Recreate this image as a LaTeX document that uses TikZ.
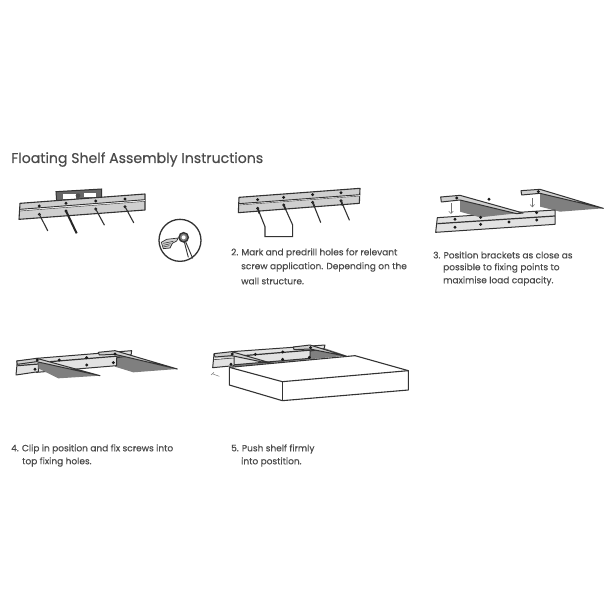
\documentclass[tikz,border=0pt]{standalone}
\usepackage{fontspec}
\setmainfont{Poppins}[FakeBold=0.35]
\usetikzlibrary{arrows.meta}
\definecolor{ink}{HTML}{333333}
\definecolor{txt}{HTML}{4A4A4A}
\definecolor{plate}{HTML}{CFCFCF}
\definecolor{lightplate}{HTML}{E2E2E2}
\definecolor{shade}{HTML}{7F7F7F}
\tikzset{
  thirds/.style={x=0.33333pt,y=-0.33333pt},
  platefill/.style={fill=plate,draw=ink,line width=1.1pt,line join=round},
  lightfill/.style={fill=lightplate,draw=ink,line width=1pt,line join=round},
  plateedge/.style={draw=ink,line width=0.9pt},
  screw/.style={draw=ink,line width=1.1pt,line cap=round},
  thickscrew/.style={draw=black!85,line width=2pt},
  brk/.style={fill=plate,draw=ink,line width=1pt,line join=round},
  grayside/.style={fill=shade,draw=none},
  holedot/.style={fill=black!90,draw=none},
  titletext/.style={anchor=west,inner sep=0pt,text=txt,font=\fontsize{14.1}{16}\selectfont},
  bodytext/.style={anchor=west,inner sep=0pt,text=txt,font=\fontsize{9}{12}\selectfont},
  downarrow/.style={draw=ink!70,line width=0.5pt,-{Straight Barb[length=2.5pt,width=4.5pt]}}
}
\newcommand{\holes}[1]{\foreach \p in {#1}{\fill[holedot] \p circle[radius=4.8];}}
\begin{document}
\begin{tikzpicture}[x=1pt,y=-1pt]
\useasboundingbox (0,0) rectangle (615,615);
\fill[white] (0,0) rectangle (615,615);
\node[titletext] (title) at (11,159.5) {Floating Shelf Assembly Instructions};

% panel 1
\begin{scope}[shift={(0,140)},thirds]
\filldraw[fill=black!60,draw=ink,line width=1pt] (168,155)--(305,147)--(305,172)--(170,185)--cycle;
\fill[white] (190,163) rectangle (228,178);
\fill[white] (252,158) rectangle (288,172);
\fill[black!70] (234,167) circle[radius=7];
\filldraw[platefill] (60,190)--(435,162)--(435,210)--(57,238)--cycle;
\fill[white] (60,209)--(435,180)--(435,183)--(60,212)--cycle;
\draw[plateedge] (60,208)--(435,179);
\draw[plateedge,line width=0.4pt] (60,213)--(435,184);
\holes{(118,198),(198,190),(287,183),(375,177),(118,223),(198,213),(287,207),(375,200)}
\draw[screw] (118,223)--(143,272);
\draw[thickscrew] (198,213)--(230,280);
\draw[screw] (287,207)--(313,255);
\draw[screw] (375,200)--(401,248);
% inset
\draw[ink,line width=1.3pt] (540,301) circle[radius=63];
\draw[ink,line width=0.9pt] (556,303)--(578,355) (553,306)--(565,352);
\filldraw[fill=shade,draw=ink,line width=1.4pt] (551,292) circle[radius=14];
\fill[white] (551,292) circle[radius=6];
\filldraw[fill=plate,draw=ink,line width=0.7pt] (484,307)--(500,298)--(535,294)--(530,303)--(517,310)--(510,324)--(490,326)--cycle;
\draw[ink,line width=0.5pt] (490,310)--(520,304) (490,316)--(512,311) (490,321)--(508,317);
\end{scope}

% panel 2
\begin{scope}[shift={(220,170)},thirds]
\filldraw[platefill] (57,82)--(420,55)--(418,100)--(55,128)--cycle;
\fill[white] (57,102)--(420,75)--(420,78)--(57,105)--cycle;
\draw[plateedge] (57,101)--(420,74);
\draw[plateedge,line width=0.4pt] (57,105)--(420,78);
\holes{(113,89),(191,82),(278,74),(363,68),(113,115),(191,105),(278,97),(363,92)}
\draw[screw] (113,115)--(135,170)--(135,200)--(218,200)--(218,165)--(191,105);
\draw[thickscrew,line width=1.7pt] (113,113)--(118,130) (191,104)--(197,120) (278,96)--(284,112) (363,91)--(368,107);
\draw[screw] (278,97)--(302,157);
\draw[screw] (363,92)--(388,150);
\end{scope}

% panel 3
\begin{scope}[shift={(420,170)},thirds]
\fill[grayside] (360,70)--(360,110)--(420,125)--(550,115)--cycle;
\filldraw[lightfill] (52,143)--(405,120)--(405,163)--(47,187)--cycle;
\draw[plateedge,line width=1.2pt] (52,161)--(405,138);
\fill[grayside] (120,90)--(120,125)--(180,142)--(290,130)--cycle;
\filldraw[brk] (62,81)--(120,76)--(309,129)--(290,131)--(120,90)--(64,96)--cycle;
\filldraw[brk] (303,62)--(360,58)--(550,115)--(360,70)--(305,75)--cycle;
\holes{(105,148),(182,142),(350,128),(105,172),(182,163),(267,156),(350,150),(207,88),(110,84),(355,65)}
\draw[downarrow] (93,100)--(93,132);
\draw[downarrow] (337,85)--(337,112);
\end{scope}

% panel 4
\begin{scope}[shift={(0,335)},thirds]
\fill[grayside] (345,58)--(345,95)--(400,112)--(532,102)--cycle;
\filldraw[lightfill] (110,70)--(395,47)--(393,62)--(350,68)--(350,92)--(110,112)--cycle;
\draw[plateedge,line width=1.2pt] (150,80)--(393,60);
\filldraw[lightfill] (52,78)--(115,72)--(115,110)--(48,120)--cycle;
\draw[plateedge,line width=1.2pt] (52,92)--(115,87);
\fill[grayside] (115,78)--(115,100)--(175,130)--(300,122)--cycle;
\filldraw[brk] (50,78)--(110,70)--(300,122)--(110,80)--(52,88)--cycle;
\filldraw[brk] (295,52)--(345,47)--(532,102)--(345,58)--(298,60)--cycle;
\holes{(112,75),(178,75),(260,68),(345,57),(105,103),(260,90),(340,83)}
\end{scope}

% panel 5
\begin{scope}[shift={(200,335)},thirds]
\fill[grayside] (95,62)--(100,95)--(440,62)--(375,40)--cycle;
\filldraw[lightfill] (95,50)--(375,30)--(372,42)--(330,48)--(330,70)--(95,90)--cycle;
\draw[plateedge,line width=1.2pt] (130,62)--(372,42);
\filldraw[lightfill] (42,58)--(102,52)--(102,92)--(38,98)--cycle;
\draw[plateedge,line width=1.2pt] (42,73)--(102,68);
\fill[shade] (42,58)--(102,54)--(102,68)--(42,73)--cycle;
\filldraw[brk] (42,56)--(95,50)--(240,92)--(95,62)--(45,66)--cycle;
\filldraw[brk] (280,36)--(330,30)--(440,64)--(330,42)--(282,44)--cycle;
\holes{(97,57),(166,58),(248,51),(332,38),(248,73),(328,67),(93,88)}
\filldraw[fill=white,draw=ink,line width=1.1pt,line join=round] (88,97)--(465,62)--(625,107)--(625,165)--(247,197)--(88,150)--cycle;
\draw[ink,line width=1.1pt] (88,97)--(247,140)--(625,107);
\draw[ink,line width=1.1pt] (247,140)--(247,197);
\draw[black!50,line width=0.5pt] (33,120)--(42,112) (36,116)--(58,124);
\end{scope}

% text
\node[bodytext] (t2a) at (231,253) {2. Mark and predrill holes for relevant};
\node[bodytext] (t2b) at (241,267) {screw application. Depending on the};
\node[bodytext] (t2c) at (241,281) {wall structure.};
\node[bodytext] (t3a) at (433,255) {3. Position brackets as close as};
\node[bodytext] (t3b) at (443,268) {possible to fixing points to};
\node[bodytext] (t3c) at (443,281) {maximise load capacity.};
\node[bodytext] (t4a) at (11,449) {4. Clip in position and fix screws into};
\node[bodytext] (t4b) at (22,462) {top fixing holes.};
\node[bodytext] (t5a) at (231,449) {5. Push shelf firmly};
\node[bodytext] (t5b) at (241,462) {into postition.};
\end{tikzpicture}
\end{document}
